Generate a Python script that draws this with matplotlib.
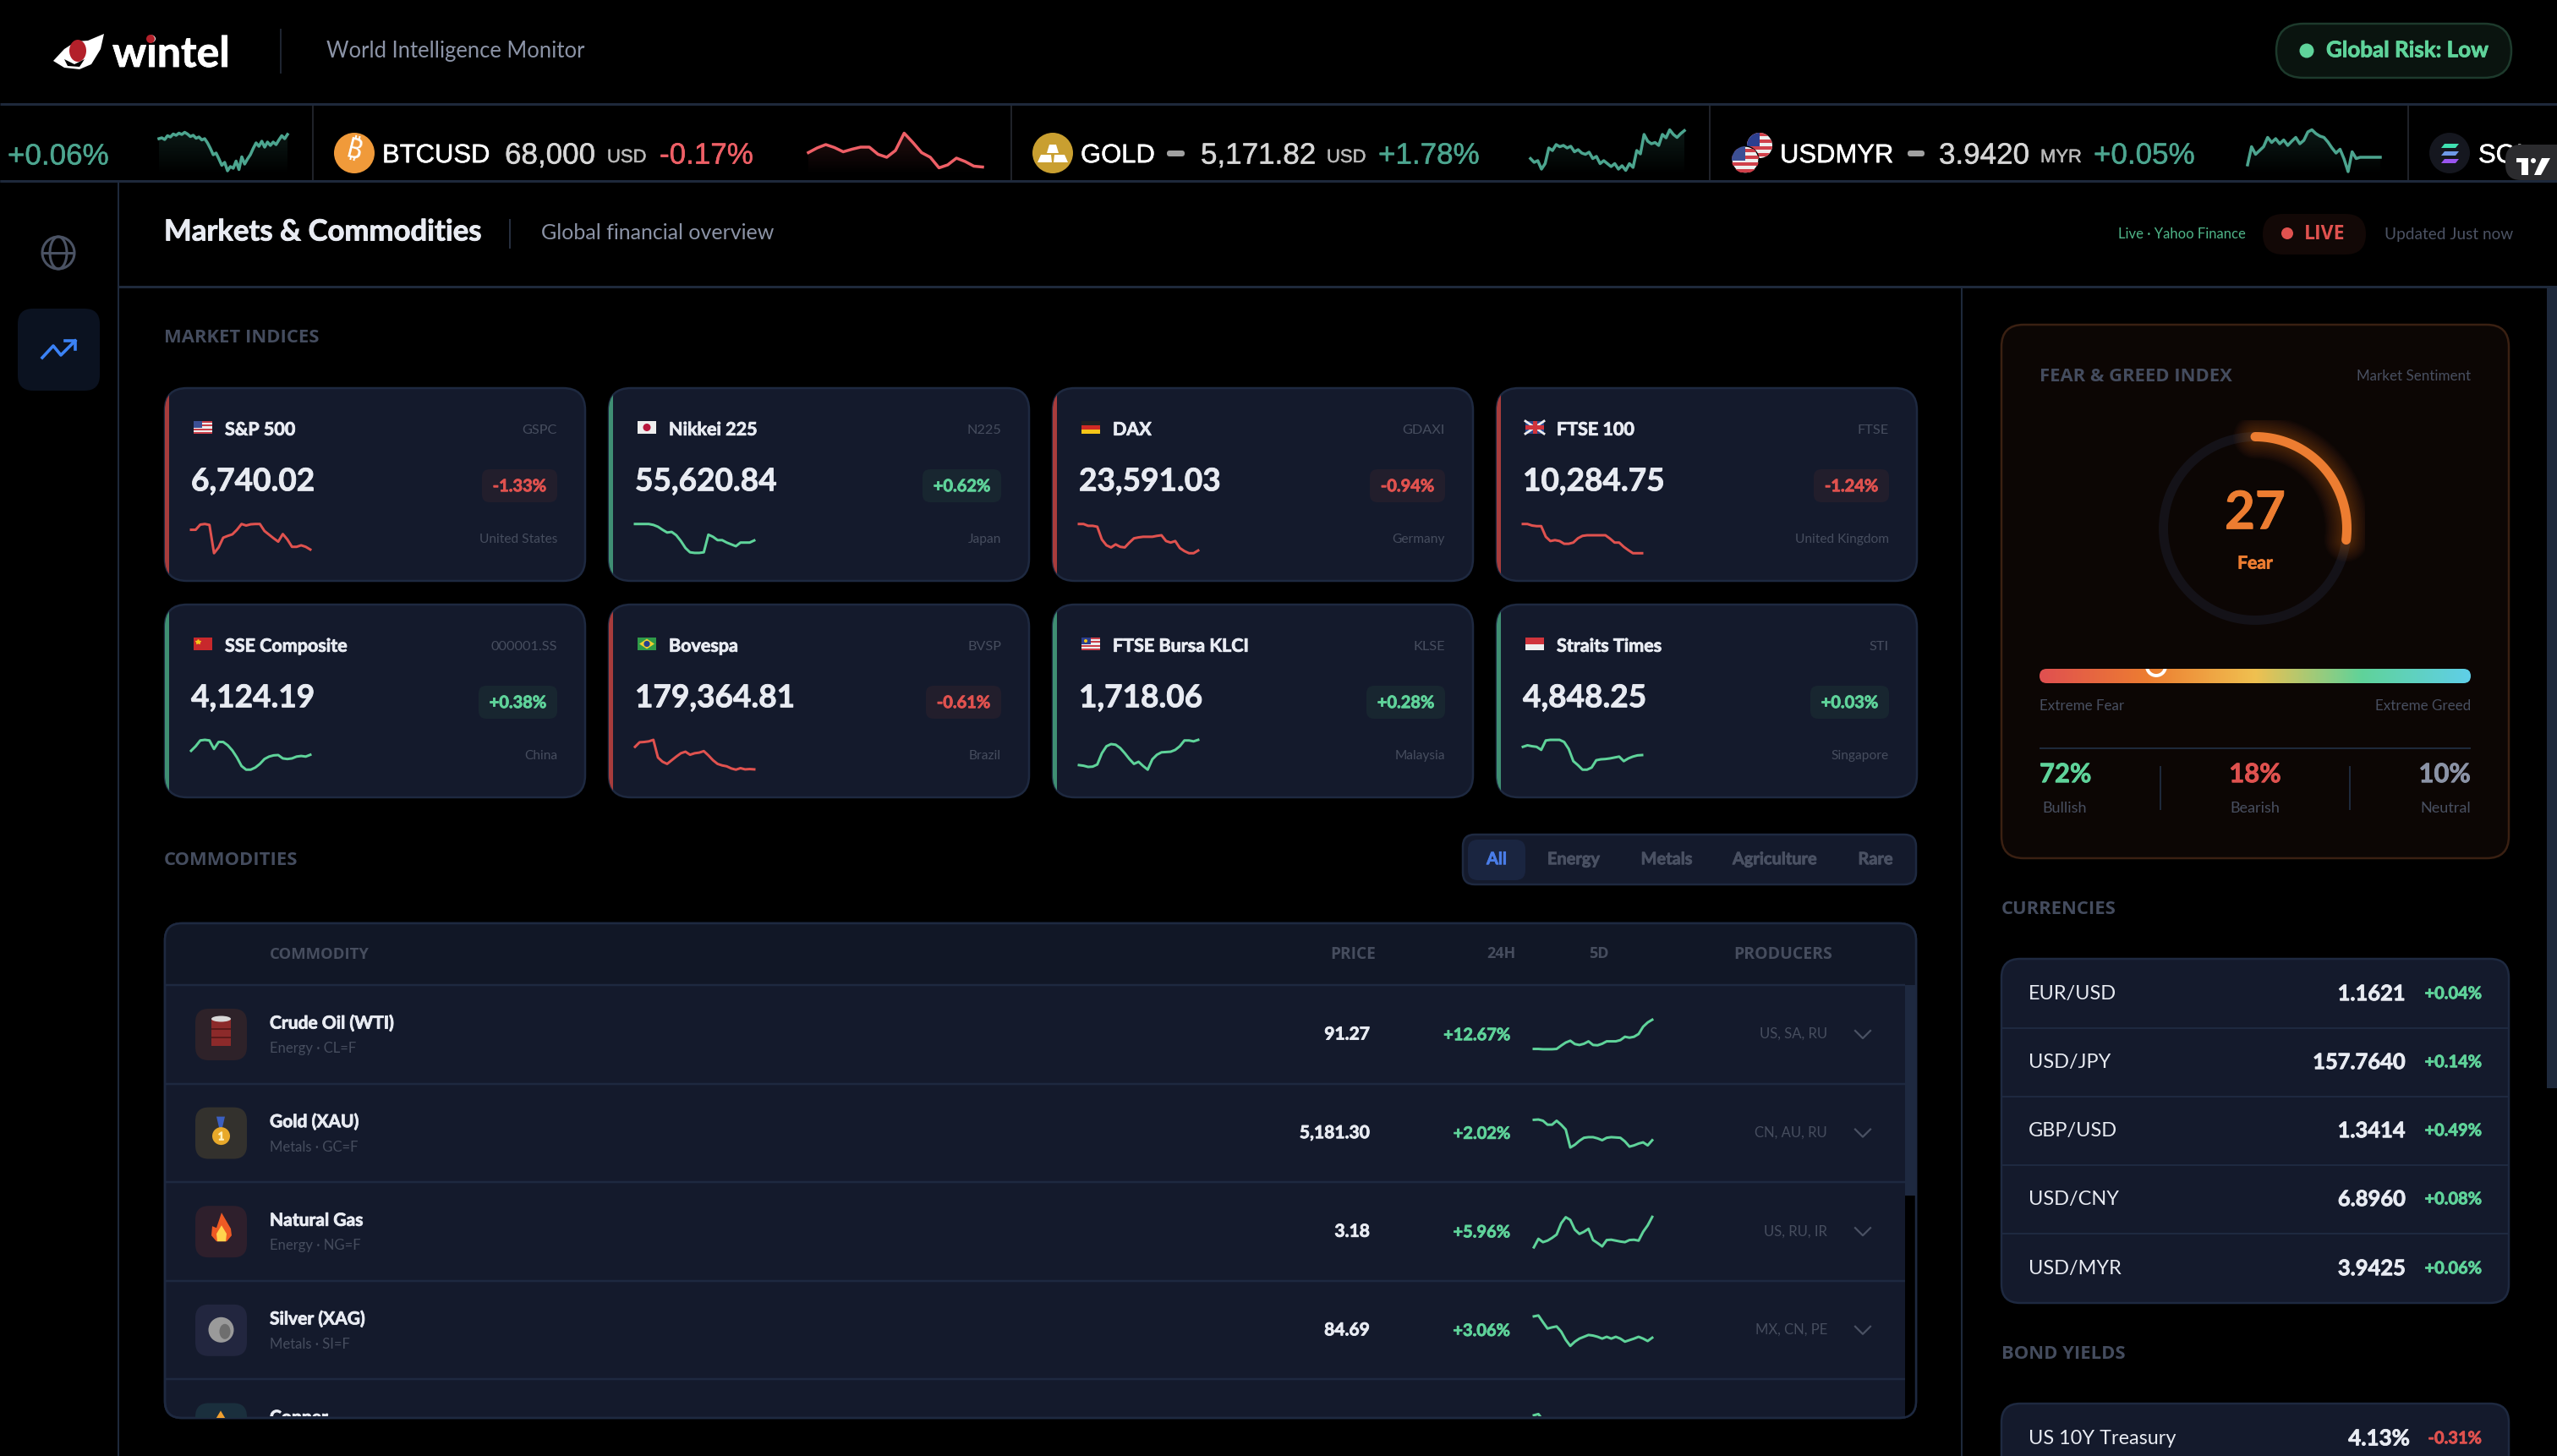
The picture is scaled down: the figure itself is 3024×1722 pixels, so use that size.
import numpy as np
from matplotlib import pyplot as plt
from matplotlib import patheffects
from matplotlib.patches import FancyBboxPatch, Rectangle, Circle, Ellipse, Polygon
from matplotlib.colors import LinearSegmentedColormap, to_rgb
from matplotlib.transforms import Bbox, TransformedBbox

W, H = 3024, 1722

# market indices
index_names = ["S&P 500", "Nikkei 225", "DAX", "FTSE 100", "SSE Composite", "Bovespa", "FTSE Bursa KLCI", "Straits Times"]
index_tickers = ["GSPC", "N225", "GDAXI", "FTSE", "000001.SS", "BVSP", "KLSE", "STI"]
index_prices = ["6,740.02", "55,620.84", "23,591.03", "10,284.75", "4,124.19", "179,364.81", "1,718.06", "4,848.25"]
index_changes = [-1.33, 0.62, -0.94, -1.24, 0.38, -0.61, 0.28, 0.03]
index_countries = ["United States", "Japan", "Germany", "United Kingdom", "China", "Brazil", "Malaysia", "Singapore"]
index_flags = ["us", "jp", "de", "uk", "cn", "br", "my", "sg"]

spark_sp = [79, 79, 96, 98, 95, 2, 21, 53, 59, 64, 79, 98, 93, 97, 98, 98, 75, 63, 51, 40, 65, 47, 23, 23, 28, 23, 14]
spark_nikkei = [98, 98, 98, 98, 95, 89, 79, 70, 72, 61, 42, 19, 5, 3, 3, 5, 63, 56, 45, 45, 37, 31, 25, 37, 37, 37, 44]
spark_dax = [98, 98, 92, 92, 89, 47, 28, 21, 31, 23, 21, 37, 51, 54, 56, 56, 56, 59, 61, 42, 37, 42, 19, 9, 2, 2, 11]
spark_ftse = [98, 98, 93, 91, 91, 56, 42, 45, 42, 33, 33, 37, 51, 59, 61, 61, 61, 61, 61, 50, 37, 37, 23, 12, 2, 2, 2]
spark_sse = [64, 79, 98, 100, 98, 70, 93, 93, 82, 65, 42, 14, 2, 2, 9, 21, 37, 45, 49, 50, 39, 37, 39, 45, 47, 45, 51]
spark_bovespa = [77, 92, 93, 95, 100, 42, 28, 21, 33, 45, 56, 61, 51, 56, 58, 63, 49, 33, 21, 16, 13, 6, 2, 7, 3, 4, 3]
spark_klci = [17, 15, 11, 12, 19, 56, 79, 86, 84, 73, 56, 37, 21, 28, 14, 2, 36, 51, 59, 60, 61, 67, 79, 98, 98, 95, 100]
spark_sti = [77, 82, 79, 77, 67, 98, 100, 100, 100, 93, 70, 30, 17, 2, 2, 9, 33, 36, 37, 39, 42, 45, 30, 39, 45, 49, 50]
index_sparks = [spark_sp, spark_nikkei, spark_dax, spark_ftse, spark_sse, spark_bovespa, spark_klci, spark_sti]

# ticker strip
tick_first = [78, 80, 76, 85, 82, 89, 86, 91, 88, 93, 89, 83, 86, 79, 82, 75, 78, 68, 55, 40, 44, 30, 15, 22, 2, 12, 8, 25, 5, 35, 18, 30, 40, 55, 68, 60, 72, 58, 70, 62, 70, 64, 75, 85, 78, 88]
tick_btc = [45, 56, 64, 57, 47, 53, 58, 58, 41, 34, 50, 91, 69, 45, 34, 9, 16, 32, 24, 13, 11]
tick_gold = [31, 22, 26, 6, 19, 56, 50, 64, 59, 62, 56, 60, 47, 52, 44, 41, 46, 31, 36, 19, 26, 19, 12, 19, 6, 14, 3, 19, 10, 50, 42, 88, 72, 66, 69, 62, 88, 80, 99, 88, 81, 90, 97]
tick_myr = [16, 59, 41, 50, 59, 81, 69, 78, 66, 75, 62, 72, 81, 66, 74, 94, 99, 90, 84, 81, 70, 56, 44, 53, 30, 0, 47, 31, 34, 34, 34, 34, 34, 34]

# commodities
comm_names = ["Crude Oil (WTI)", "Gold (XAU)", "Natural Gas", "Silver (XAG)", "Copper"]
comm_subs = ["Energy · CL=F", "Metals · GC=F", "Energy · NG=F", "Metals · SI=F", ""]
comm_prices = ["91.27", "5,181.30", "3.18", "84.69", ""]
comm_changes = ["+12.67%", "+2.02%", "+5.96%", "+3.06%", ""]
comm_producers = ["US, SA, RU", "CN, AU, RU", "US, RU, IR", "MX, CN, PE", ""]
comm_icon_bg = ["#2e2229", "#33312d", "#2e1f2c", "#22263f", "#1a2f3d"]
spark_oil = [4, 4, 3, 3, 3, 4, 15, 25, 31, 20, 17, 21, 29, 17, 16, 21, 29, 29, 29, 33, 44, 41, 44, 53, 77, 91, 100]
spark_gold = [95, 96, 92, 79, 79, 92, 79, 63, 4, 13, 26, 36, 38, 38, 34, 28, 36, 38, 37, 36, 24, 7, 11, 17, 21, 11, 28]
spark_gas = [0, 28, 17, 22, 31, 42, 79, 99, 90, 58, 44, 51, 61, 24, 14, 3, 24, 25, 22, 19, 17, 24, 25, 22, 51, 72, 100]
spark_silver = [97, 100, 78, 57, 61, 64, 47, 20, 0, 14, 24, 30, 36, 34, 30, 24, 30, 24, 30, 24, 14, 19, 24, 30, 24, 16, 27]
spark_copper = [96, 100, 80]
comm_sparks = [spark_oil, spark_gold, spark_gas, spark_silver, spark_copper]
filter_labels = ["All", "Energy", "Metals", "Agriculture", "Rare"]

# right panel
fear_greed = 27
bull_bear = ["72%", "18%", "10%"]
bull_bear_labels = ["Bullish", "Bearish", "Neutral"]
fx_names = ["EUR/USD", "USD/JPY", "GBP/USD", "USD/CNY", "USD/MYR"]
fx_values = ["1.1621", "157.7640", "1.3414", "6.8960", "3.9425"]
fx_changes = ["+0.04%", "+0.14%", "+0.49%", "+0.08%", "+0.06%"]

GREEN = "#5fd39a"
RED = "#e0524f"
TV_GREEN = "#4ca58f"
TV_RED = "#ee5f66"
CARD = "#141a2c"
EDGE = "#1e2940"
LINE = "#1e293b"
WHITE = "#e8ebf2"
DIM = "#464d5e"
LABEL = "#444c5e"
MAIN = "Lato"
WIDE = "Open Sans"
TV = "Liberation Sans"

fig = plt.figure(figsize=(W / 100, H / 100), dpi=100, facecolor="black")
ax = fig.add_axes([0, 0, 1, 1])
ax.set_xlim(0, W)
ax.set_ylim(H, 0)
ax.axis("off")


def T(x, y, s, px, color=WHITE, ha="left", bold=False, family=MAIN, clip_y=None, z=12, rot=0):
    # y is the middle of the capitals, so mixed sizes share a line
    t = ax.text(x, y + 0.36 * px, s, fontsize=px * 0.72, color=color, ha=ha, va="baseline",
                fontweight="bold" if bold else "normal", family=family, zorder=z, rotation=rot)
    # reference fonts are a bit heavier than what is installed
    if bold and family == MAIN:
        t.set_path_effects([patheffects.withStroke(linewidth=0.6, foreground=color)])
    if family == TV:
        t.set_path_effects([patheffects.withStroke(linewidth=0.35, foreground=color)])
    if clip_y is not None:
        # agg ignores clip paths on text, a clip box works
        t.set_clip_box(TransformedBbox(Bbox([[0, 0], [W, clip_y]]), ax.transData))
        t.set_clip_on(True)
    return t


def box(x0, y0, x1, y1, r, fc, ec="none", lw=2, z=10):
    p = FancyBboxPatch((x0, y0), x1 - x0, y1 - y0, boxstyle="round,pad=0,rounding_size=%s" % r,
                       fc=fc, ec=ec, lw=lw * 0.72, zorder=z)
    ax.add_patch(p)
    return p


def rect(x0, y0, x1, y1, color, z=12, clip=None):
    p = Rectangle((x0, y0), x1 - x0, y1 - y0, fc=color, ec="none", zorder=z)
    ax.add_patch(p)
    if clip is not None:
        p.set_clip_path(clip)
    return p


def hline(x0, x1, y, color=LINE, lw=2, z=10.5):
    ax.plot([x0, x1], [y, y], color=color, lw=lw * 0.72, zorder=z, solid_capstyle="butt")


def vline(x, y0, y1, color=LINE, lw=2, z=10.5):
    ax.plot([x, x], [y0, y1], color=color, lw=lw * 0.72, zorder=z, solid_capstyle="butt")


def spark(vals, x0, y0, x1, y1, color, lw=3, count=None, fill=False, clip_y=None):
    a = fig.add_axes([x0 / W, 1 - y1 / H, (x1 - x0) / W, (y1 - y0) / H])
    n = count if count else len(vals)
    xs = np.arange(len(vals))
    a.set_xlim(0, n - 1)
    a.set_ylim(0, 100)
    a.axis("off")
    line, = a.plot(xs, vals, color=color, lw=lw * 0.72, clip_on=False, solid_joinstyle="round")
    if clip_y is not None:
        # the last table row is cut by the bottom of the panel
        clip_rect = Rectangle((0, 0), W, clip_y, transform=ax.transData)
        line.set_clip_path(clip_rect)
        line.set_clip_on(True)
    if fill:
        grad = np.zeros((64, 2, 4))
        grad[..., :3] = to_rgb(color)
        grad[..., 3] = np.linspace(0.16, 0.0, 64)[:, None]
        im = a.imshow(grad, extent=(0, n - 1, -8, 100), aspect="auto", origin="upper", zorder=0)
        poly = Polygon(list(zip(xs, vals)) + [(n - 1, -8), (0, -8)], transform=a.transData, fc="none", ec="none")
        a.add_patch(poly)
        im.set_clip_path(poly)
        a.set_xlim(0, n - 1)
        a.set_ylim(-8, 100)
    return a


def flag(kind, x, y, w=22, h=15):
    cx, cy = x + w / 2, y + h / 2
    if kind == "us":
        for i in range(7):
            rect(x, y + i * h / 7, x + w, y + (i + 1) * h / 7, "#c9404a" if i % 2 == 0 else "#eeeeee")
        rect(x, y, x + w * 0.45, y + h * 0.55, "#3c4f94", z=12.1)
    elif kind == "jp":
        rect(x, y, x + w, y + h, "#eeeeee")
        ax.add_patch(Circle((cx, cy), 4.5, fc="#b8163c", zorder=12.1))
    elif kind == "de":
        rect(x, y, x + w, y + h / 3, "#222222")
        rect(x, y + h / 3, x + w, y + 2 * h / 3, "#d02a24")
        rect(x, y + 2 * h / 3, x + w, y + h, "#f5c518")
    elif kind == "uk":
        rect(x, y, x + w, y + h, "#2f4a8f")
        ax.plot([x, x + w], [y, y + h], color="#eeeeee", lw=2, zorder=12.1)
        ax.plot([x, x + w], [y + h, y], color="#eeeeee", lw=2, zorder=12.1)
        rect(x, cy - 2.5, x + w, cy + 2.5, "#d0343c", z=12.2)
        rect(cx - 2.5, y, cx + 2.5, y + h, "#d0343c", z=12.2)
    elif kind == "cn":
        rect(x, y, x + w, y + h, "#c8282c")
        ax.plot([x + 5], [y + 5], marker="*", color="#f5c518", ms=4, zorder=12.1)
    elif kind == "br":
        rect(x, y, x + w, y + h, "#2f9a49")
        ax.add_patch(Polygon([(x + 2, cy), (cx, y + 1.5), (x + w - 2, cy), (cx, y + h - 1.5)], fc="#f0d030", zorder=12.1))
        ax.add_patch(Circle((cx, cy), 3.6, fc="#25408f", zorder=12.2))
    elif kind == "my":
        for i in range(7):
            rect(x, y + i * h / 7, x + w, y + (i + 1) * h / 7, "#c9404a" if i % 2 == 0 else "#eeeeee")
        rect(x, y, x + w * 0.5, y + h * 0.55, "#2c3f8f", z=12.1)
        ax.add_patch(Circle((x + 5, y + 4), 2, fc="#f5c518", zorder=12.2))
    elif kind == "sg":
        rect(x, y, x + w, y + h / 2, "#d0343c")
        rect(x, y + h / 2, x + w, y + h, "#eeeeee")


# header ---------------------------------------------------------------
ax.add_patch(Polygon([(63, 72), (76, 58), (90, 49), (104, 48), (123, 40), (119, 58), (108, 76), (94, 82), (76, 80)],
                     fc="white", ec="none", zorder=4))
ax.add_patch(Ellipse((92, 60), 20, 26, fc="#b3202a", zorder=5))
ax.add_patch(Polygon([(76, 70), (88, 76), (100, 70), (94, 79), (80, 78)], fc="black", zorder=5))
T(133, 61, "wintel", 50, "white", bold=True)
ax.add_patch(Circle((178, 46), 5, fc="#b3202a", zorder=13))
vline(332, 34, 87, "#1e2430")
T(386, 59, "World Intelligence Monitor", 25.6, "#8b93a6")

box(2692, 28, 2970, 92, 32, "#0a140f", "#1d3a2c", 2.5)
ax.add_patch(Circle((2728, 60), 8.5, fc=GREEN, zorder=11))
T(2751, 58, "Global Risk: Low", 26, GREEN, bold=True)

hline(0, W, 122.5, LINE, 3)
hline(0, W, 214, LINE, 3)
for sep in [370, 1196, 2022, 2848]:
    vline(sep, 125, 213, "#1f2229")

# ticker strip ---------------------------------------------------------
T(9, 182, "+0.06%", 35, TV_GREEN, family=TV)
spark(tick_first, 188, 153, 340, 207, TV_GREEN, fill=True, lw=3.5)

ax.add_patch(Circle((419, 181), 24, fc="#f09a3a", zorder=11))
T(419, 178, "₿", 32, "white", ha="center", family=["Noto Sans", "Roboto", "Open Sans", "Lato", "DejaVu Sans", "Liberation Sans"], rot=-14)
T(452, 181, "BTCUSD", 31, "white", family=TV)
T(597, 181, "68,000", 35, "#d6d6d6", family=TV)
T(718, 184, "USD", 22, "#b8b8b8", family=TV)
T(780, 181, "-0.17%", 35, TV_RED, family=TV)
spark(tick_btc, 956, 153, 1162, 207, TV_RED, fill=True, lw=3.5)

ax.add_patch(Circle((1245, 181), 24, fc="#c99f30", zorder=11))
ax.add_patch(Polygon([(1241, 171), (1249, 171), (1252, 181), (1238, 181)], fc="white", zorder=11.1))
ax.add_patch(Polygon([(1231, 183), (1243, 183), (1244, 192), (1227, 192)], fc="white", zorder=11.1))
ax.add_patch(Polygon([(1247, 183), (1259, 183), (1263, 192), (1246, 192)], fc="white", zorder=11.1))
T(1278, 181, "GOLD", 31, "white", family=TV)
box(1380, 178, 1401, 185, 3, "#a0a0a0")
T(1420, 181, "5,171.82", 35, "#d6d6d6", family=TV)
T(1569, 184, "USD", 22, "#b8b8b8", family=TV)
T(1630, 181, "+1.78%", 35, TV_GREEN, family=TV)
spark(tick_gold, 1810, 153, 1992, 207, TV_GREEN, fill=True, lw=3.5)

# USDMYR double flag, Malaysian one sits behind
my_c = Circle((2081, 172), 15, fc="#eeeeee", zorder=11)
ax.add_patch(my_c)
for i in range(4):
    rect(2066, 157 + i * 8, 2096, 161 + i * 8, "#d0404a", z=11.01, clip=my_c)
rect(2066, 157, 2081, 173, "#2c3f8f", z=11.02, clip=my_c)
us_c = Circle((2064, 189), 16, fc="#eeeeee", ec="black", lw=1, zorder=11.1)
ax.add_patch(us_c)
for i in range(4):
    rect(2048, 176 + i * 8, 2080, 180 + i * 8, "#d0404a", z=11.11, clip=us_c)
rect(2048, 173, 2064, 190, "#3c4f94", z=11.12, clip=us_c)
T(2105, 181, "USDMYR", 31, "white", family=TV)
box(2256, 178, 2276, 185, 3, "#a0a0a0")
T(2293, 181, "3.9420", 35, "#d6d6d6", family=TV)
T(2413, 184, "MYR", 22, "#b8b8b8", family=TV)
T(2476, 181, "+0.05%", 35, TV_GREEN, family=TV)
spark(tick_myr, 2658, 153, 2815, 207, TV_GREEN, fill=True, lw=3.5)

ax.add_patch(Circle((2897, 181), 24, fc="#15171f", zorder=11))
for k, col in enumerate(["#3fe0b0", "#6f9ae8", "#9a55f0"]):
    yy = 170 + k * 9
    ax.add_patch(Polygon([(2887, yy + 5), (2891, yy), (2908, yy), (2904, yy + 5)], fc=col, zorder=11.1))
T(2931, 181, "SOL", 31, "white", family=TV)

# chart-library badge sits over the strip
box(2963, 171, 3050, 213, 18, "#2b2b2e", z=13)
rect(2976, 187, 2990, 192, "white", z=14)
rect(2982, 187, 2990, 207, "white", z=14)
ax.add_patch(Circle((2996, 190), 3, fc="white", zorder=14))
ax.add_patch(Polygon([(3006, 187), (3016, 187), (3005, 207), (2997, 207)], fc="white", zorder=14))
hline(0, W, 214, LINE, 3, z=14)

# sidebar and title bar ------------------------------------------------
vline(140, 215, H, LINE, 2)
hline(140, W, 339, LINE, 3)
ax.add_patch(Circle((69, 299), 19, fc="none", ec="#4a5263", lw=2.2, zorder=11))
ax.add_patch(Ellipse((69, 299), 20, 38, fc="none", ec="#4a5263", lw=2.2, zorder=11))
hline(50, 88, 299, "#4a5263", 3)
box(21, 365, 118, 462, 18, "#0b1220")
ax.plot([50, 63, 72, 89], [423, 409, 420, 403], color="#3b82f6", lw=2.6, zorder=11)
ax.plot([77, 89, 89], [403, 403, 413], color="#3b82f6", lw=2.6, zorder=11)

T(194, 272, "Markets & Commodities", 34.7, WHITE, bold=True)
vline(603, 259, 294, "#262e3e")
T(640, 274, "Global financial overview", 25, "#8b93a6")
T(2505, 276, "Live · Yahoo Finance", 16.6, "#4fb588")
box(2676, 253, 2798, 301, 24, "#120806")
ax.add_patch(Circle((2705, 276), 7, fc=RED, zorder=11))
T(2725, 275, "LIVE", 23, RED, bold=True, family=WIDE)
T(2820, 276, "Updated Just now", 19, "#4c5364")

vline(2320, 340, H, LINE, 2)
rect(3012, 341, 3024, 1287, LINE, z=10)

# market index cards ---------------------------------------------------
T(194, 397, "MARKET INDICES", 22, LABEL, bold=True, family=WIDE)

for i in range(8):
    col = i % 4
    row = i // 4
    x0 = 195 + col * 525
    y0 = 459 + row * 256
    card = box(x0, y0, x0 + 497, y0 + 228, 26, CARD, EDGE, 2.5)
    up = index_changes[i] >= 0
    color = GREEN if up else RED
    rect(x0, y0, x0 + 5, y0 + 228, "#3f8f73" if up else "#a83c3c", z=10.1, clip=card)
    flag(index_flags[i], x0 + 34, y0 + 39)
    T(x0 + 71, y0 + 48, index_names[i], 21.5, WHITE, bold=True)
    T(x0 + 464, y0 + 48, index_tickers[i], 16.2, DIM, ha="right")
    T(x0 + 31, y0 + 108, index_prices[i], 37, WHITE, bold=True)
    txt = "%+.2f%%" % index_changes[i]
    bw = 93 if up else 89
    box(x0 + 464 - bw, y0 + 96, x0 + 464, y0 + 135, 9, "#182630" if up else "#221e2c", z=10.2)
    T(x0 + 464 - bw / 2, y0 + 115, txt, 20, color, ha="center", bold=True)
    T(x0 + 464, y0 + 177, index_countries[i], 15.5, DIM, ha="right")
    spark(index_sparks[i], x0 + 31, y0 + 160, x0 + 172, y0 + 196, color)

# commodities ----------------------------------------------------------
T(194, 1015, "COMMODITIES", 22, LABEL, bold=True, family=WIDE)

box(1730, 987, 2266, 1046, 14, CARD, EDGE, 2.5)
box(1736, 993, 1804, 1041, 12, "#1a2540", z=10.1)
filter_centers = [1770, 1861, 1971, 2099, 2218]
for lab, cx in zip(filter_labels, filter_centers):
    T(cx, 1015, lab, 20, "#4a7de8" if lab == "All" else "#4a5163", ha="center", bold=True)

table = box(195, 1092, 2266, 1677, 20, CARD, EDGE, 2.5)
rect(195, 1092, 2266, 1165, "#111726", z=10.1, clip=table)
rect(2253, 1165, 2266, 1677, "black", z=10.1, clip=table)
rect(2253, 1165, 2265, 1414, EDGE, z=10.2)
# redraw the outline above the fills
box(195, 1092, 2266, 1677, 20, "none", EDGE, 2.5, z=10.3)

T(319, 1127, "COMMODITY", 18.5, DIM, bold=True, family=WIDE)
T(1627, 1127, "PRICE", 19, DIM, ha="right", bold=True, family=WIDE)
T(1793, 1127, "24H", 18, DIM, ha="right", bold=True, family=WIDE)
T(1891, 1127, "5D", 18, DIM, ha="center", bold=True, family=WIDE)
T(2167, 1127, "PRODUCERS", 19.5, DIM, ha="right", bold=True, family=WIDE)

row_h = 116.6
for i in range(5):
    top = 1165 + i * row_h
    hline(195, 2253, top, EDGE, 2.5, z=10.2)
    icon = FancyBboxPatch((231, top + 28), 61, 61, boxstyle="round,pad=0,rounding_size=16",
                          fc=comm_icon_bg[i], ec="none", zorder=10.4)
    ax.add_patch(icon)
    icon.set_clip_path(table)
    T(319, top + 44, comm_names[i], 21, WHITE, bold=True, clip_y=1675)
    if i == 4:
        spark(comm_sparks[i], 1814, top + 41, 1954, top + 77, GREEN, count=27, clip_y=1675)
        continue
    T(319, top + 74, comm_subs[i], 16.6, DIM)
    T(1620, top + 57, comm_prices[i], 21, WHITE, ha="right", bold=True)
    T(1786, top + 58, comm_changes[i], 20, GREEN, ha="right", bold=True)
    T(2161, top + 57, comm_producers[i], 16.6, DIM, ha="right")
    ax.plot([2194, 2203, 2212], [top + 54, top + 63, top + 54], color="#4a5163", lw=1.6, zorder=12)
    spark(comm_sparks[i], 1814, top + 41, 1954, top + 77, GREEN)

# commodity icons
cy = 1165 + 58
rect(250, cy - 18, 273, cy + 14, "#8c2a2a", z=10.6)
ax.add_patch(Ellipse((261.5, cy - 18), 23, 7, fc="#d8d8d8", zorder=10.7))
hline(250, 273, cy - 6, "#5c1a1a", 2, z=10.7)
hline(250, 273, cy + 4, "#5c1a1a", 2, z=10.7)
cy = 1165 + row_h + 58
ax.add_patch(Polygon([(256, cy - 19), (266, cy - 19), (262, cy - 2), (260, cy - 2)], fc="#3b5fc0", zorder=10.6))
ax.add_patch(Circle((261.5, cy + 4), 10.5, fc="#e8a92a", zorder=10.7))
T(261.5, cy + 4, "1", 13, "#fff2c0", ha="center", bold=True)
cy = 1165 + 2 * row_h + 58
ax.add_patch(Polygon([(262, cy - 22), (273, cy - 3), (274, cy + 5), (268, cy + 12), (256, cy + 12), (250, cy + 5), (251, cy - 6), (256, cy - 4)],
                     fc="#ee5a24", zorder=10.6))
ax.add_patch(Polygon([(262, cy - 7), (268, cy + 3), (267, cy + 12), (257, cy + 12), (256, cy + 3)], fc="#ffd34d", zorder=10.7))
cy = 1165 + 3 * row_h + 58
ax.add_patch(Circle((261.5, cy), 15, fc="#9a9a9a", zorder=10.6))
ax.add_patch(Ellipse((266, cy + 2), 13, 18, fc="#6e6e6e", zorder=10.7))
cy = 1165 + 4 * row_h + 58
copper = Polygon([(261, cy - 21), (270, cy - 6), (252, cy - 6)], fc="#f0a030", zorder=10.6)
ax.add_patch(copper)
copper.set_clip_path(table)

# fear and greed card --------------------------------------------------
box(2367, 384, 2967, 1015, 26, "#0c0604", "#3a2012", 2.5)
T(2412, 443, "FEAR & GREED INDEX", 22, LABEL, bold=True, family=WIDE)
T(2922, 444, "Market Sentiment", 17, "#484f60", ha="right")

gcx, gcy, gr = 2667, 625, 108.5
angle = np.linspace(0, 2 * np.pi, 361)
ax.plot(gcx + gr * np.sin(angle), gcy - gr * np.cos(angle), color="#141218", lw=11 * 0.72, zorder=10.2)
sweep = np.linspace(0, fear_greed / 100 * 2 * np.pi, 200)
arc_x = gcx + gr * np.sin(sweep)
arc_y = gcy - gr * np.cos(sweep)
glow_box = Rectangle((2600, 497), 197, 175, transform=ax.transData)
for w in range(52, 11, -3):
    g, = ax.plot(arc_x, arc_y, color="#ed7d31", lw=w * 0.72, alpha=0.025, zorder=10.3, solid_capstyle="round")
    g.set_clip_path(glow_box)
ax.plot(arc_x, arc_y, color="#ed7d31", lw=11 * 0.72, zorder=10.5, solid_capstyle="round")
T(2667, 603, str(fear_greed), 62, "#ed7d31", ha="center", bold=True)
T(2667, 665, "Fear", 21, "#ed7d31", ha="center", bold=True)

bar = box(2412, 791, 2922, 808, 8.5, "none", z=10.5)
cmap = LinearSegmentedColormap.from_list("fg", ["#e05050", "#ed7d31", "#f0c050", "#5fd39a", "#60cfe8"])
im = ax.imshow(np.linspace(0, 1, 512)[None, :], extent=(2412, 2922, 808, 791), cmap=cmap, aspect="auto", zorder=10.4)
im.set_clip_path(bar)
ax.set_xlim(0, W)
ax.set_ylim(H, 0)
ring = Circle((2550, 788), 11, fc="none", ec="white", lw=2.8, zorder=10.6)
ax.add_patch(ring)
ring.set_clip_path(bar)
T(2412, 834, "Extreme Fear", 17, "#484f60")
T(2922, 834, "Extreme Greed", 17, "#484f60", ha="right")
hline(2412, 2922, 885, LINE, 2)
vline(2555, 906, 958, LINE, 2)
vline(2779, 906, 958, LINE, 2)
stat_colors = [GREEN, RED, "#8b93a6"]
stat_x = [2412, 2667, 2922]
stat_ha = ["left", "center", "right"]
label_x = [2442, 2667, 2892]
for k in range(3):
    T(stat_x[k], 914, bull_bear[k], 31, stat_colors[k], ha=stat_ha[k], bold=True)
    T(label_x[k], 955, bull_bear_labels[k], 18, "#484f60", ha="center")

# currencies and bonds -------------------------------------------------
T(2367, 1073, "CURRENCIES", 22, LABEL, bold=True, family=WIDE)
box(2367, 1134, 2967, 1541, 22, CARD, EDGE, 2.5)
fx_y = [1174, 1255, 1336, 1417, 1499]
for k in range(5):
    if k > 0:
        hline(2368, 2966, (fx_y[k - 1] + fx_y[k]) / 2 + 1, EDGE, 2)
    T(2399, fx_y[k], fx_names[k], 23.5, WHITE)
    T(2845, fx_y[k], fx_values[k], 25.5, WHITE, ha="right", bold=True)
    T(2935, fx_y[k], fx_changes[k], 20, GREEN, ha="right", bold=True)

T(2367, 1599, "BOND YIELDS", 22, LABEL, bold=True, family=WIDE)
box(2367, 1660, 2967, 1800, 22, CARD, EDGE, 2.5)
T(2399, 1700, "US 10Y Treasury", 23.5, WHITE)
T(2850, 1700, "4.13%", 26, WHITE, ha="right", bold=True)
T(2935, 1700, "-0.31%", 20, RED, ha="right", bold=True)

fig.savefig("out.png", dpi=100, facecolor="black")
